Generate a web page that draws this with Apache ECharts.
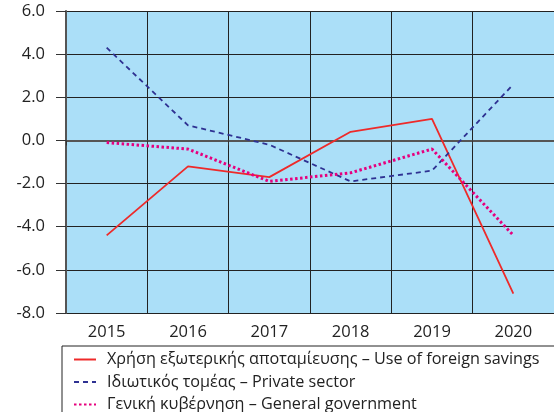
<!DOCTYPE html>
<html>
<head>
<meta charset="utf-8">
<script src="https://cdn.jsdelivr.net/npm/echarts@6/dist/echarts.min.js"></script>
<style>
  html, body { margin: 0; padding: 0; background: #fff; }
  #chart { width: 554px; height: 412px; }
</style>
</head>
<body>
<div id="chart"></div>
<script>
// ========== 数据 ==========
const years = ['2015', '2016', '2017', '2018', '2019', '2020'];
const foreignSavings = [-4.4, -1.2, -1.7, 0.4, 1.0, -7.1];
const privateSector = [4.3, 0.7, -0.2, -1.9, -1.4, 2.6];
const generalGov = [-0.1, -0.4, -1.9, -1.5, -0.4, -4.4];

const seriesNames = [
  'Χρήση εξωτερικής αποταμίευσης – Use of foreign savings',
  'Ιδιωτικός τομέας – Private sector',
  'Γενική κυβέρνηση – General government'
];

const font = '"Open Sans", "Noto Sans", sans-serif';

const chart = echarts.init(document.getElementById('chart'));
chart.setOption({
  animation: false,
  textStyle: { fontFamily: font },
  grid: {
    left: 66, top: 11, width: 492, height: 302,
    backgroundColor: '#abdff8', show: true, borderWidth: 0
  },
  legend: {
    orient: 'vertical',
    left: 62, top: 346, height: 100,
    itemWidth: 22, itemHeight: 10, itemGap: 5.5,
    padding: [5, 40, 12, 11],
    borderColor: '#222', borderWidth: 1,
    itemStyle: { opacity: 0 },
    textStyle: {
      fontSize: 16.2, lineHeight: 17, color: '#222', fontFamily: font,
      padding: [0, 0, 0, 6]
    },
    data: seriesNames
  },
  xAxis: {
    type: 'category',
    data: years,
    boundaryGap: true,
    axisLine: { show: true, lineStyle: { color: '#555', width: 2 } },
    axisTick: { show: true, length: 5, lineStyle: { color: '#333' } },
    axisLabel: { color: '#222', fontSize: 16.5, margin: 11 },
    splitLine: { show: true, lineStyle: { color: '#222', width: 1 } }
  },
  yAxis: {
    type: 'value',
    min: -8, max: 6, interval: 2,
    axisLine: { show: true, lineStyle: { color: '#555', width: 2 } },
    axisTick: { show: true, length: 10, lineStyle: { color: '#333' } },
    axisLabel: { color: '#222', fontSize: 16.5, margin: 21, formatter: v => v.toFixed(1) },
    splitLine: { show: true, lineStyle: { color: '#222', width: 1 } }
  },
  series: [
    {
      name: seriesNames[0], type: 'line', data: foreignSavings,
      symbol: 'none', color: '#ee2a2a',
      lineStyle: { width: 1.8, type: 'solid' }
    },
    {
      name: seriesNames[1], type: 'line', data: privateSector,
      symbol: 'none', color: '#2e3192',
      lineStyle: { width: 1.8, type: [5, 4] }
    },
    {
      name: seriesNames[2], type: 'line', data: generalGov,
      symbol: 'none', color: '#e6007e',
      lineStyle: { width: 3, type: [2.5, 2.5] }
    }
  ]
});
</script>
</body>
</html>
